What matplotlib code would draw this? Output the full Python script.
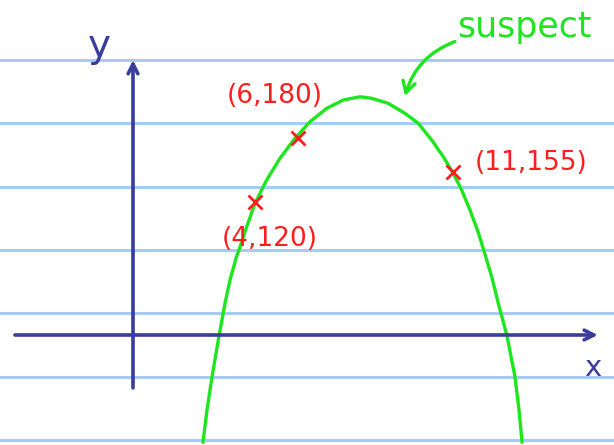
import matplotlib
matplotlib.use('Agg')
import matplotlib.pyplot as plt

# points (sketch units: y-axis at x=0, x-axis at y=0)
curve_x = [2.414, 2.552, 2.724, 2.966, 3.172, 3.345, 3.552, 3.714, 3.921,
           4.207, 4.610, 5.069, 5.586, 6.103, 6.679, 7.252, 7.828, 8.231,
           8.803, 9.379, 9.838, 10.300, 10.700, 11.045, 11.334, 11.621,
           11.907, 12.130, 12.369, 12.597, 12.897, 13.172, 13.310, 13.414]
curve_y = [-98.6, -69.1, -38.7, -0.9, 29.2, 50.7, 70.7, 82.9, 99.8,
           121.4, 142.9, 162.9, 181.3, 196.6, 208.9, 216.6, 219.6, 218.2,
           213.5, 204.3, 195.1, 179.7, 164.3, 149.0, 133.6, 115.2,
           94.5, 75.0, 53.7, 29.2, -0.9, -38.7, -69.1, -98.6]

point_x = [4.207, 5.700, 11.045]
point_y = [122.9, 181.3, 150.5]
point_labels = ['(4,120)', '(6,180)', '(11,155)']

ruled_y = [253.5, 195.0, 136.4, 78.3, 20.3, -38.7, -96.8]

navy = '#3a3d9c'
green = '#1ee61e'
red = '#ff1e1e'
paper = '#a6cbf7'

fig = plt.figure(figsize=(6.14, 4.45), dpi=100)
ax = fig.add_axes([0, 0, 1, 1])
ax.set_xlim(-4.586, 16.586)
ax.set_ylim(-101.4, 308.8)
ax.axis('off')

# notebook lines
for ry in ruled_y:
    ax.axhline(ry, color=paper, lw=2.2, zorder=0)

# axes with arrows
ax.annotate('', xy=(16.03, 0), xytext=(-4.07, 0),
            arrowprops=dict(arrowstyle='->,head_length=0.7,head_width=0.35',
                            color=navy, lw=2.6, shrinkA=0, shrinkB=0))
ax.annotate('', xy=(0, 253.5), xytext=(0, -48.8),
            arrowprops=dict(arrowstyle='->,head_length=0.7,head_width=0.35',
                            color=navy, lw=2.6, shrinkA=0, shrinkB=0))
ax.text(-1.17, 266, 'y', color=navy, fontsize=28, ha='center', va='center')
ax.text(15.86, -30, 'x', color=navy, fontsize=21, ha='center', va='center')

# the suspect curve
ax.plot(curve_x, curve_y, color=green, lw=2.4, zorder=2,
        solid_joinstyle='round')

# data points
ax.plot(point_x, point_y, 'x', color=red, ms=10, mew=2, zorder=3)
label_pos = [(4.72, 88.9), (4.90, 220.3), (13.72, 159.0)]
for (lx, ly), lab in zip(label_pos, point_labels):
    ax.text(lx, ly, lab, color=red, fontsize=19, ha='center', va='center')

# annotation
ax.text(11.17, 274.7, 'suspect', color=green, fontsize=25, ha='left', va='baseline')
ax.annotate('', xy=(9.38, 220.3), xytext=(11.10, 270.5),
            arrowprops=dict(arrowstyle='->,head_length=0.8,head_width=0.45',
                            color=green, lw=2.4, shrinkA=0, shrinkB=0,
                            connectionstyle='arc3,rad=0.25'))

fig.savefig('out.png', dpi=100)
